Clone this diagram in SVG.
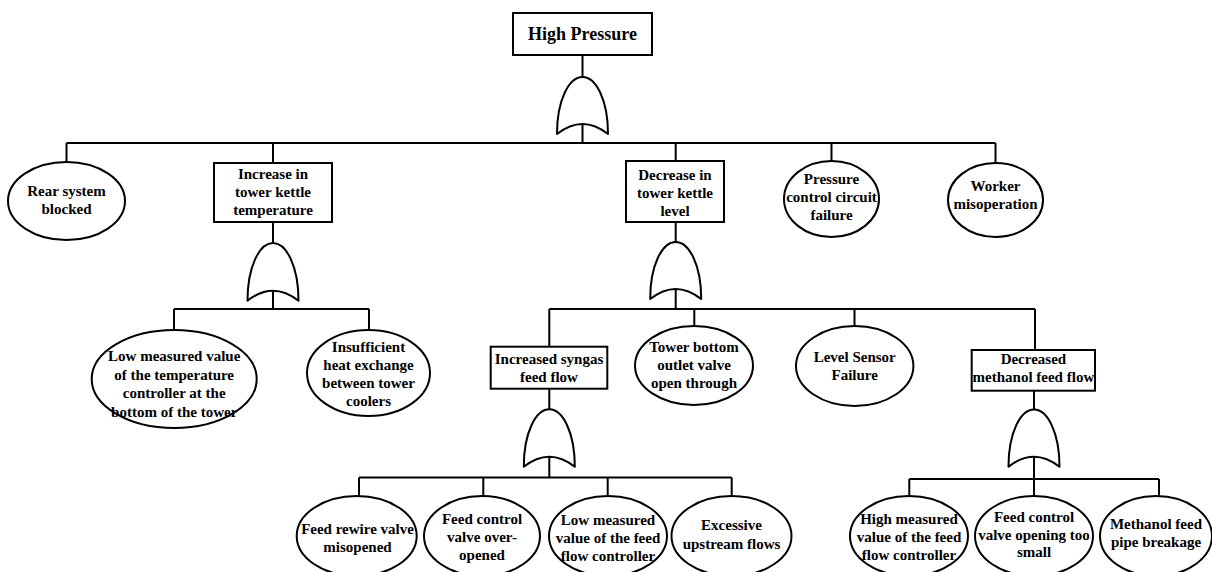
<svg xmlns="http://www.w3.org/2000/svg" width="1212" height="572" viewBox="0 0 1212 572">
<style>
.b{fill:#fff;stroke:#000;stroke-width:2}
.g{fill:#fff;stroke:#000;stroke-width:2;stroke-linejoin:round}
.c{fill:none;stroke:#000;stroke-width:2}
text{font-family:"Liberation Serif","Times New Roman",serif;font-weight:bold;font-size:15px;text-anchor:middle;fill:#000}
.t{font-size:18px}
</style>
<rect width="1212" height="572" fill="#fff"/>
<g id="connectors" class="c">
<path d="M582.5,55V77M582.5,124V143M66.5,143H995.5M66.5,143V162M273,143V163M675.7,143V161M831.5,143V161M995.5,143V163"/>
<path d="M273,222V243M273,290V309M174,309H369M174,309V330M369,309V330"/>
<path d="M675.7,222V242M675.7,289V309M549.3,309H1035M549.3,309V346.7M694.3,309V326M854.5,309V326M1035,309V350"/>
<path d="M549.3,388.7V409.3M549.3,456V477.5M359,477.5H731.7M359,477.5V496M483.3,477.5V496M607.7,477.5V496M731.7,477.5V496"/>
<path d="M1034,390.7V409.5M1034,456V479M909.3,479H1159M909.3,479V496.5M1034,479V496.5M1159,479V496.5"/>
</g>
<g id="n-high-pressure"><rect class="b" x="513" y="13" width="139" height="42"/><text class="t" x="582.5" y="40">High Pressure</text></g>
<g id="gate-top"><path class="g" d="M557,134C557,100 569,77 582.5,77C596,77 608,100 608,134Q582.5,114 557,134Z"/></g>
<g id="n-rear"><ellipse class="b" cx="66.5" cy="201" rx="58.5" ry="39"/><text x="66.5" y="196">Rear system</text><text x="66.5" y="214">blocked</text></g>
<g id="n-increase"><rect class="b" x="214" y="163" width="118" height="59"/><text x="273" y="178.5">Increase in</text><text x="273" y="196.5">tower kettle</text><text x="273" y="214.5">temperature</text></g>
<g id="gate-increase"><path class="g" d="M247.5,300.7C247.5,266.7 259.5,243 273,243C286.5,243 298.5,266.7 298.5,300.7Q273,280.7 247.5,300.7Z"/></g>
<g id="n-decrease"><rect class="b" x="626" y="161" width="98" height="61"/><text x="675" y="180">Decrease in</text><text x="675" y="198">tower kettle</text><text x="675" y="216">level</text></g>
<g id="gate-decrease"><path class="g" d="M650.2,299C650.2,265 662.2,242 675.7,242C689.2,242 701.2,265 701.2,299Q675.7,279 650.2,299Z"/></g>
<g id="n-pressure"><ellipse class="b" cx="831.5" cy="199" rx="47.5" ry="38"/><text x="831.5" y="184">Pressure</text><text x="831.5" y="202">control circuit</text><text x="831.5" y="220">failure</text></g>
<g id="n-worker"><ellipse class="b" cx="995.5" cy="200" rx="47.5" ry="37"/><text x="995.5" y="191">Worker</text><text x="995.5" y="209">misoperation</text></g>
<g id="n-low-temp"><ellipse class="b" cx="174.2" cy="379" rx="82.5" ry="49"/><text x="174.2" y="361">Low measured value</text><text x="174.2" y="379.5">of the temperature</text><text x="174.2" y="398">controller at the</text><text x="174.2" y="416.5">bottom of the tower</text></g>
<g id="n-insufficient"><ellipse class="b" cx="368.5" cy="373" rx="61.5" ry="43"/><text x="368.5" y="351.5">Insufficient</text><text x="368.5" y="369.5">heat exchange</text><text x="368.5" y="387.5">between tower</text><text x="368.5" y="405.5">coolers</text></g>
<g id="n-syngas"><rect class="b" x="490.7" y="346.7" width="116.6" height="42"/><text x="549" y="364">Increased syngas</text><text x="549" y="382">feed flow</text></g>
<g id="gate-syngas"><path class="g" d="M523.8,466.7C523.8,432.7 535.8,409.3 549.3,409.3C562.8,409.3 574.8,432.7 574.8,466.7Q549.3,446.7 523.8,466.7Z"/></g>
<g id="n-tower-bottom"><ellipse class="b" cx="694" cy="365.5" rx="59" ry="39.5"/><text x="694" y="351.5">Tower bottom</text><text x="694" y="370">outlet valve</text><text x="694" y="387.5">open through</text></g>
<g id="n-level-sensor"><ellipse class="b" cx="854.7" cy="366" rx="58.7" ry="40"/><text x="854.7" y="362">Level Sensor</text><text x="854.7" y="380">Failure</text></g>
<g id="n-methanol"><rect class="b" x="971.7" y="350" width="123.3" height="40.7"/><text x="1033.4" y="363.5">Decreased</text><text x="1033.4" y="381.5">methanol feed flow</text></g>
<g id="gate-methanol"><path class="g" d="M1008.5,466.7C1008.5,432.7 1020.5,409.5 1034,409.5C1047.5,409.5 1059.5,432.7 1059.5,466.7Q1034,446.7 1008.5,466.7Z"/></g>
<g id="n-feed-rewire"><ellipse class="b" cx="356.7" cy="536" rx="60" ry="40"/><text x="357.5" y="533.5">Feed rewire valve</text><text x="357.5" y="551.5">misopened</text></g>
<g id="n-feed-over"><ellipse class="b" cx="482" cy="536" rx="58" ry="40"/><text x="482" y="523.5">Feed control</text><text x="482" y="541.5">valve over-</text><text x="482" y="559.5">opened</text></g>
<g id="n-low-feed"><ellipse class="b" cx="608" cy="536" rx="59" ry="40"/><text x="608" y="525">Low measured</text><text x="608" y="543">value of the feed</text><text x="608" y="560.5">flow controller</text></g>
<g id="n-excessive"><ellipse class="b" cx="731.5" cy="536" rx="60" ry="40"/><text x="731.5" y="530">Excessive</text><text x="731.5" y="548.5">upstream flows</text></g>
<g id="n-high-feed"><ellipse class="b" cx="909" cy="536" rx="59" ry="40"/><text x="909" y="524">High measured</text><text x="909" y="542">value of the feed</text><text x="909" y="559.5">flow controller</text></g>
<g id="n-feed-small"><ellipse class="b" cx="1034" cy="536" rx="59" ry="40"/><text x="1034" y="522">Feed control</text><text x="1034" y="539.5">valve opening too</text><text x="1034" y="557">small</text></g>
<g id="n-pipe"><ellipse class="b" cx="1156" cy="536" rx="56" ry="40"/><text x="1156" y="528.5">Methanol feed</text><text x="1156" y="547">pipe breakage</text></g>
</svg>
